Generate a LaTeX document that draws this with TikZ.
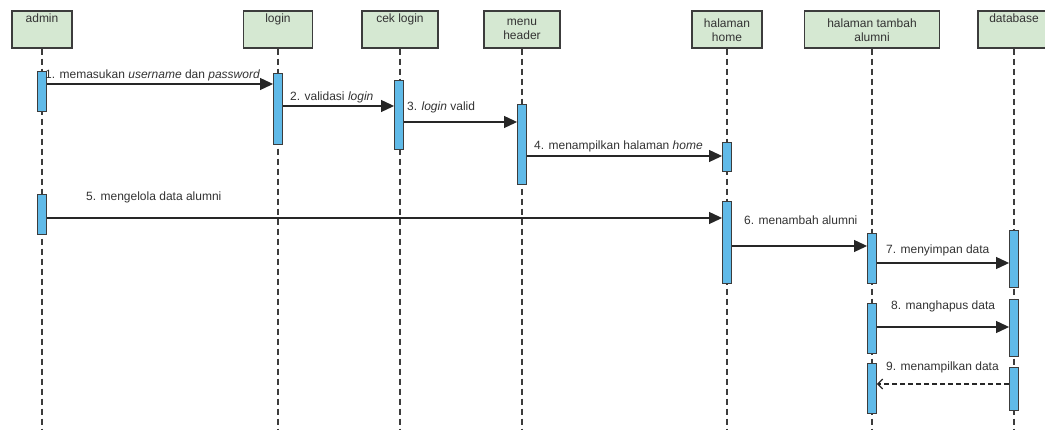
\documentclass[tikz,border=0pt]{standalone}
\usepackage{fontspec}
\setmainfont{Liberation Sans}
\usetikzlibrary{arrows.meta}
\definecolor{headfill}{RGB}{213,232,210}
\definecolor{barfill}{RGB}{96,186,232}
\definecolor{edge}{RGB}{60,60,60}

\begin{document}
\begin{tikzpicture}[x=1pt, y=-1pt,
  font=\fontsize{12}{14}\selectfont,
  head/.style={rectangle, draw=edge, line width=1.3pt, fill=headfill, minimum height=37pt, inner sep=0pt},
  headtext/.style={anchor=north, align=center, inner sep=1.5pt, yshift=-2pt, text=black!80},
  headtwo/.style={headtext, yshift=-5pt},
  life/.style={draw=edge, line width=1.1pt, dash pattern=on 6pt off 4pt},
  bar/.style={rectangle, draw=edge, line width=0.9pt, fill=barfill, minimum width=9pt, inner sep=0pt},
  msg/.style={draw=black!85, line width=1.1pt, -{Triangle[length=13pt,width=12pt]}},
  reply/.style={draw=black!85, line width=1.1pt, dash pattern=on 5pt off 3pt, -{Straight Barb[length=5pt,width=10pt]}},
  lbl/.style={anchor=base west, inner sep=0pt, text=black!80}]

  \useasboundingbox (0,0) rectangle (1045,430);
  \fill[white] (0,0) rectangle (1045,430);

  % objects
  \node (admin) [head, minimum width=60pt, label={[headtext]north:admin}] at (42, 29.5) {};
  \node (login) [head, minimum width=69pt, label={[headtext]north:login}] at (278, 29.5) {};
  \node (ceklogin) [head, minimum width=76pt, label={[headtext]north:cek login}] at (400, 29.5) {};
  \node (menuheader) [head, minimum width=76pt, label={[headtwo]north:menu\\header}] at (522, 29.5) {};
  \node (home) [head, minimum width=70pt, label={[headtwo]north:halaman\\home}] at (727, 29.5) {};
  \node (tambah) [head, minimum width=135pt, label={[headtwo]north:halaman tambah\\alumni}] at (872, 29.5) {};
  \node (database) [head, minimum width=72pt, label={[headtext]north:database}] at (1014, 29.5) {};

  % lifelines
  \foreach \obj in {admin, login, ceklogin, menuheader, home, tambah, database}
    \draw[life] (\obj.south) -- (\obj.south |- 0,430);

  % activations
  \node (admin1) [bar, minimum height=40pt] at (42, 91) {};
  \node (admin2) [bar, minimum height=40pt] at (42, 214) {};
  \node (login1) [bar, minimum height=71pt] at (278, 108.5) {};
  \node (cek1) [bar, minimum height=69pt] at (399, 114.5) {};
  \node (menu1) [bar, minimum height=80pt] at (522, 144) {};
  \node (home1) [bar, minimum height=29pt] at (727, 156.5) {};
  \node (home2) [bar, minimum height=82pt] at (727, 242) {};
  \node (tambah1) [bar, minimum height=50pt] at (872, 258) {};
  \node (tambah2) [bar, minimum height=50pt] at (872, 328) {};
  \node (tambah3) [bar, minimum height=50pt] at (872, 388) {};
  \node (db1) [bar, minimum height=57pt] at (1014, 258.5) {};
  \node (db2) [bar, minimum height=57pt] at (1014, 327.5) {};
  \node (db3) [bar, minimum height=43pt] at (1014, 388.5) {};

  % messages
  \draw[msg] (admin1.east |- 0,84) -- (login1.west |- 0,84);
  \draw[msg] (login1.east |- 0,106) -- (cek1.west |- 0,106);
  \draw[msg] (cek1.east |- 0,122) -- (menu1.west |- 0,122);
  \draw[msg] (menu1.east |- 0,156) -- (home1.west |- 0,156);
  \draw[msg] (admin2.east |- 0,218) -- (home2.west |- 0,218);
  \draw[msg] (home2.east |- 0,246) -- (tambah1.west |- 0,246);
  \draw[msg] (tambah1.east |- 0,263) -- (db1.west |- 0,263);
  \draw[msg] (tambah2.east |- 0,327) -- (db2.west |- 0,327);
  \draw[reply] (db3.west |- 0,384) -- (tambah3.east |- 0,384);

  % message labels
  \node (lbl1) [lbl] at (45, 79) {1. memasukan \textit{username} dan \textit{password}};
  \node (lbl2) [lbl] at (290, 101) {2. validasi \textit{login}};
  \node (lbl3) [lbl] at (407, 111) {3. \textit{login} valid};
  \node (lbl4) [lbl] at (534, 150) {4. menampilkan halaman \textit{home}};
  \node (lbl5) [lbl] at (86, 201) {5. mengelola data alumni};
  \node (lbl6) [lbl] at (744, 225) {6. menambah alumni};
  \node (lbl7) [lbl] at (886, 254) {7. menyimpan data};
  \node (lbl8) [lbl] at (891, 310) {8. manghapus data};
  \node (lbl9) [lbl] at (886, 371) {9. menampilkan data};
\end{tikzpicture}
\end{document}
